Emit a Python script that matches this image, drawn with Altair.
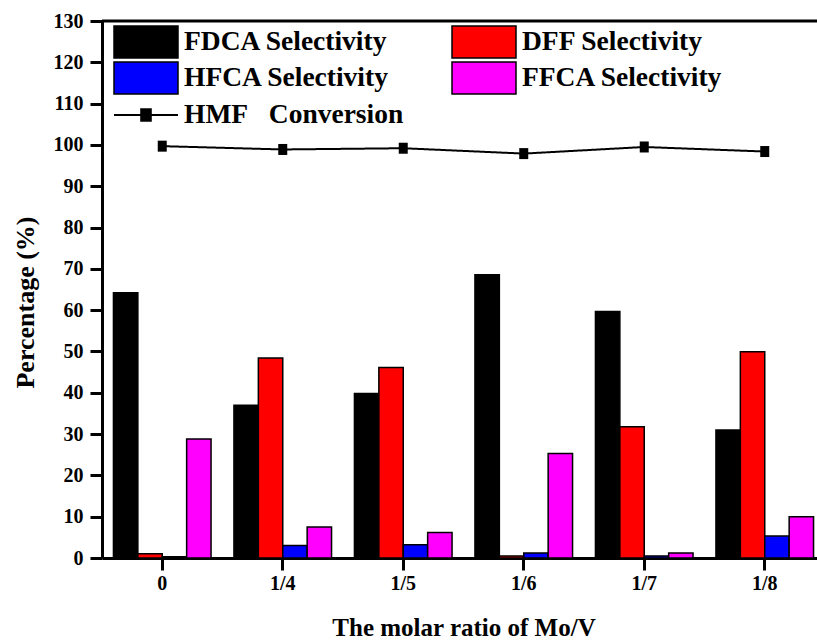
import altair as alt
import pandas as pd

ratios = ["0", "1/4", "1/5", "1/6", "1/7", "1/8"]
series_names = ["FDCA Selectivity", "DFF Selectivity", "HFCA Selectivity", "FFCA Selectivity"]
series_colors = ["#000000", "#ff0000", "#0000ff", "#ff00ff"]
# legend order (filled column by column): FDCA, HFCA | DFF, FFCA
legend_order = ["FDCA Selectivity", "HFCA Selectivity", "DFF Selectivity", "FFCA Selectivity"]
legend_colors = ["#000000", "#0000ff", "#ff0000", "#ff00ff"]
fdca = [64.2, 37.0, 39.8, 68.6, 59.7, 31.0]
dff = [1.0, 48.4, 46.1, 0.5, 31.8, 49.9]
hfca = [0.3, 3.0, 3.2, 1.2, 0.5, 5.3]
ffca = [28.8, 7.5, 6.2, 25.3, 1.2, 10.0]
hmf = [99.7, 98.9, 99.2, 97.9, 99.5, 98.4]
hmf_label = "HMF\u00a0\u00a0\u00a0Conversion"
y_ticks = list(range(0, 131, 10))

FONT = "Liberation Serif"
RECT_PATH = "M-2,-1H2V1H-2Z"
LINE_PATH = "M-2,0H2M-0.3,-0.36H0.3V0.36H-0.3Z"
MARKER_PATH = "M-0.9,-1.1H0.9V1.1H-0.9Z"

rows = []
for name, vals in zip(series_names, [fdca, dff, hfca, ffca]):
    for r, v in zip(ratios, vals):
        rows.append({"ratio": r, "series": name, "value": v})
bars_df = pd.DataFrame(rows)
line_df = pd.DataFrame({"ratio": ratios, "value": hmf, "series": [hmf_label] * len(ratios)})
top_df = pd.DataFrame({"value": [130]})

x_axis = alt.Axis(
    title="The molar ratio of Mo/V", labelAngle=0, labelFontSize=20, labelPadding=3,
    titleFontSize=25, titlePadding=22,
)
y_axis = alt.Axis(
    title="Percentage (%)", values=y_ticks, grid=False, labelFontSize=20, labelPadding=7,
    titleFontSize=26, titleAngle=270, titleX=-77, titleY=281, titleAlign="center",
    titleBaseline="middle",
)
x_scale = alt.Scale(range=[0, 723], paddingInner=0.19, paddingOuter=0.095)
y_scale = alt.Scale(domain=[0, 130], nice=False, zero=True)


def x_enc():
    return alt.X("ratio:N", sort=ratios, scale=x_scale, axis=x_axis)


def y_enc():
    return alt.Y("value:Q", scale=y_scale, axis=y_axis)


legend_common = dict(
    title=None, orient="none", padding=0, symbolSize=1024, symbolStrokeColor="black",
    symbolOpacity=1, labelFont=FONT, labelFontSize=27.5, labelFontWeight="bold",
    labelColor="black", labelOffset=21, labelLimit=0,
)

bars = alt.Chart(bars_df).mark_bar(stroke="black", strokeWidth=1.5, opacity=1).encode(
    x=x_enc(),
    xOffset=alt.XOffset("series:N", sort=series_names,
                        scale=alt.Scale(paddingInner=0, paddingOuter=0)),
    y=y_enc(),
    color=alt.Color(
        "series:N",
        scale=alt.Scale(domain=legend_order, range=legend_colors),
        legend=alt.Legend(
            legendX=27, legendY=4, columns=2, columnPadding=59, rowPadding=-2,
            symbolType=RECT_PATH, symbolStrokeWidth=1.5, **legend_common,
        ),
    ),
)

line = alt.Chart(line_df).mark_line(color="black", strokeWidth=2).encode(
    x=x_enc(),
    y=y_enc(),
    strokeDash=alt.StrokeDash(
        "series:N",
        scale=alt.Scale(domain=[hmf_label], range=[[1, 0]]),
        legend=alt.Legend(
            legendX=27, legendY=77, symbolType=LINE_PATH, symbolFillColor="black",
            symbolStrokeWidth=2, **legend_common,
        ),
    ),
)

points = alt.Chart(line_df).mark_point(
    shape=MARKER_PATH, filled=True, size=100, color="black", opacity=1
).encode(x=x_enc(), y=y_enc())

frame = alt.Chart(top_df).mark_rule(color="black", strokeWidth=3).encode(
    y=y_enc(), x=alt.value(0), x2=alt.value(715)
)

chart = alt.layer(bars, line, points, frame).properties(
    width=715, height=537,
    autosize=alt.AutoSizeParams(type="none"),
    padding={"left": 102, "top": 21, "right": 0, "bottom": 85},
    background="white",
).configure_view(stroke="transparent").configure_axis(
    labelFont=FONT, titleFont=FONT, labelFontWeight="bold", titleFontWeight="bold",
    labelColor="black", titleColor="black", domainColor="black", domainWidth=3,
    tickColor="black", tickWidth=3, tickSize=12,
)

chart.save("out.html", embed_options={"renderer": "svg", "actions": False})
